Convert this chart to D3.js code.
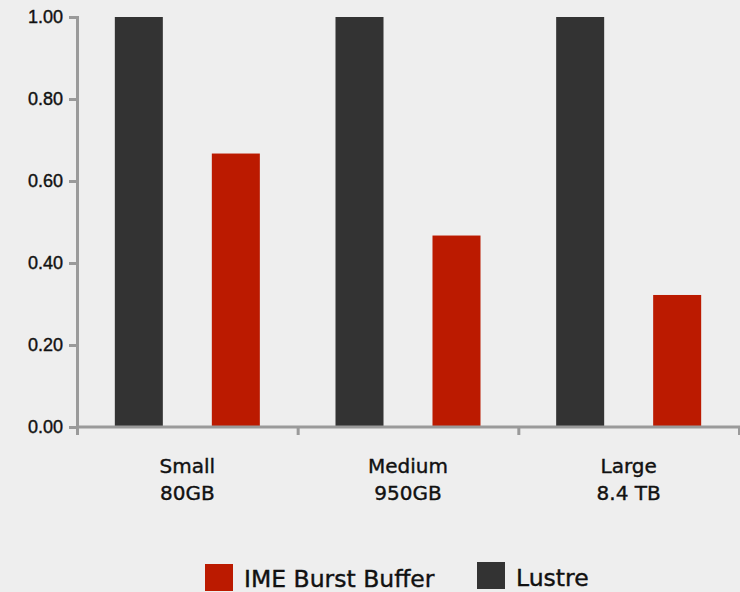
<!DOCTYPE html>
<html>
<head>
<meta charset="utf-8">
<script src="https://cdn.jsdelivr.net/npm/d3@7"></script>
<style>
  body { margin: 0; background: #eeeeee; }
  svg { display: block; font-family: "DejaVu Sans", "Liberation Sans", Arial, sans-serif; }
  .axis path, .axis line { stroke: #9a9a9a; stroke-width: 3; }
  .axis text { fill: #111; font-size: 18px; font-family: "Liberation Sans", Arial, sans-serif; stroke: #111; stroke-width: 0.4; }
  .cat-label, .legend text { stroke: #111; stroke-width: 0.4; }
</style>
</head>
<body>
<div id="chart-area"></div>
<script>
// data
var categories = ["Small", "Medium", "Large"];
var subLabels = ["80GB", "950GB", "8.4 TB"];
var seriesNames = ["Lustre", "IME Burst Buffer"];
var lustre = [1.00, 1.00, 1.00];
var ime = [0.667, 0.467, 0.322];
var yTicks = [0, 0.2, 0.4, 0.6, 0.8, 1.0];

var width = 740, height = 592;
var margin = { left: 77, right: 1, top: 17, bottom: 165 };

var svg = d3.select("#chart-area")
    .append("svg")
        .attr("width", width)
        .attr("height", height);

svg.append("rect")
    .attr("width", width)
    .attr("height", height)
    .attr("fill", "#eeeeee");

var x0 = d3.scaleBand()
    .domain(categories)
    .range([margin.left, width - margin.right])
    .paddingInner(0)
    .paddingOuter(0);

var x1 = d3.scaleBand()
    .domain(seriesNames)
    .range([0, x0.bandwidth()])
    .paddingInner(0.505)
    .paddingOuter(0.39);

var y = d3.scaleLinear()
    .domain([0, 1])
    .range([height - margin.bottom, margin.top]);

var color = d3.scaleOrdinal()
    .domain(seriesNames)
    .range(["#333333", "#bb1a00"]);

var rows = categories.map(function(c, i){
    return { cat: c, values: [
        { name: "Lustre", value: lustre[i] },
        { name: "IME Burst Buffer", value: ime[i] }
    ]};
});

// bars
var groups = svg.selectAll("g.cat")
    .data(rows)
    .enter().append("g")
        .attr("class", "cat")
        .attr("transform", function(d){ return "translate(" + x0(d.cat) + ",0)"; });

groups.selectAll("rect")
    .data(function(d){ return d.values; })
    .enter().append("rect")
        .attr("x", function(d){ return x1(d.name); })
        .attr("width", x1.bandwidth())
        .attr("y", function(d){ return y(d.value); })
        .attr("height", function(d){ return y(0) - y(d.value); })
        .attr("fill", function(d){ return color(d.name); });

// Y axis
var yAxisCall = d3.axisLeft(y)
    .tickValues(yTicks)
    .tickSizeInner(8)
    .tickSizeOuter(8)
    .tickPadding(6)
    .tickFormat(d3.format(".2f"));
var yAxis = svg.append("g")
    .attr("class", "y axis")
    .attr("transform", "translate(" + margin.left + ",0)")
    .call(yAxisCall);

// X axis
var xScaleLin = d3.scaleLinear()
    .domain([0, 3])
    .range([margin.left, width - margin.right]);
var xAxis = svg.append("g")
    .attr("class", "x axis")
    .attr("transform", "translate(0," + y(0) + ")")
    .call(d3.axisBottom(xScaleLin).tickValues([0, 1, 2, 3]).tickSize(8).tickSizeOuter(0).tickFormat(""));
xAxis.select(".domain").attr("d", "M" + margin.left + ",0H" + width);

// category labels
var labels = svg.selectAll("text.cat-label")
    .data(categories)
    .enter().append("text")
        .attr("class", "cat-label")
        .attr("x", function(d){ return x0(d) + x0.bandwidth() / 2; })
        .attr("y", y(0) + 46)
        .attr("text-anchor", "middle")
        .attr("font-size", "20px")
        .attr("fill", "#111");
labels.append("tspan")
    .attr("x", function(d){ return x0(d) + x0.bandwidth() / 2; })
    .text(function(d){ return d; });
labels.append("tspan")
    .attr("x", function(d){ return x0(d) + x0.bandwidth() / 2; })
    .attr("dy", 27)
    .text(function(d, i){ return subLabels[i]; });

// legend
var legendItems = [
    { name: "IME Burst Buffer", x: 205, y: 564 },
    { name: "Lustre", x: 477, y: 562 }
];
var legend = svg.selectAll("g.legend")
    .data(legendItems)
    .enter().append("g")
        .attr("class", "legend")
        .attr("transform", function(d){ return "translate(" + d.x + "," + d.y + ")"; });
legend.append("rect")
    .attr("width", 28)
    .attr("height", 27)
    .attr("fill", function(d){ return color(d.name); });
legend.append("text")
    .attr("x", 39)
    .attr("y", function(d, i){ return i === 0 ? 23 : 24; })
    .attr("font-size", "23.5px")
    .attr("fill", "#111")
    .text(function(d){ return d.name; });
</script>
</body>
</html>
